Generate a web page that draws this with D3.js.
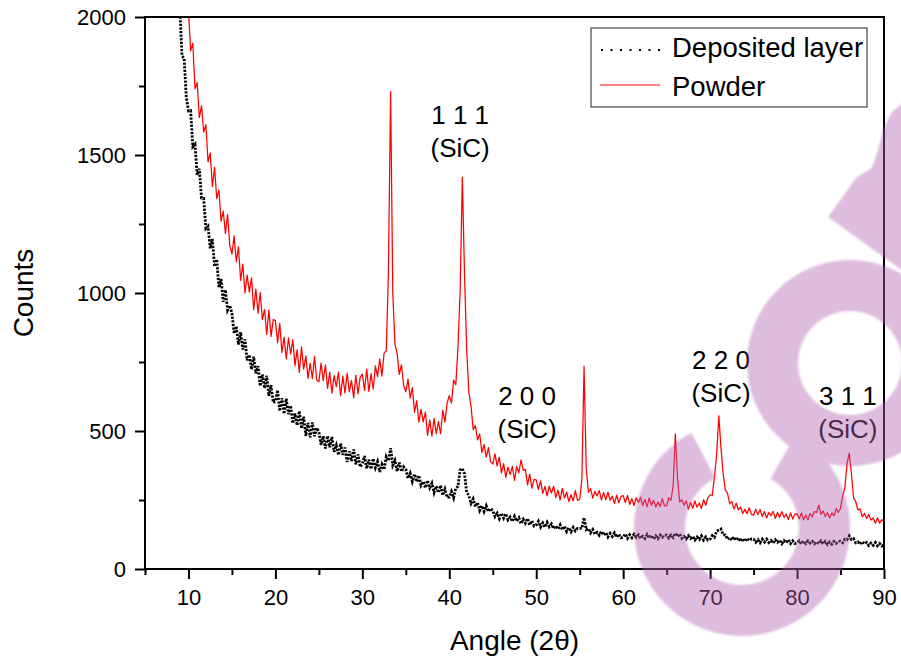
<!DOCTYPE html>
<html>
<head>
<meta charset="utf-8">
<script src="https://cdn.jsdelivr.net/npm/d3@7"></script>
<style>
  html, body { margin: 0; padding: 0; background: #fff; }
  svg { display: block; font-family: "Liberation Sans", Arial, sans-serif; }
</style>
</head>
<body>
<svg id="chart" width="901" height="661"></svg>
<script>
// XRD patterns, counts sampled every 0.25 degrees (2θ) from 8.5 to 90
const angleStart = 8.5;
const angleStep = 0.25;

const powderCounts = [
  2740, 2510, 2450, 2220, 2180, 2030,
  2024, 1877, 1905, 1740, 1762, 1635, 1679, 1583, 1610, 1476, 1508, 1385, 1455, 1342, 1373, 1260, 1297, 1216, 1285, 1172,
  1141, 1207, 1113, 1167, 1046, 1105, 1000, 1065, 1003, 1055, 940, 1014, 927, 1001, 904, 940, 850, 938, 843, 904,
  900, 820, 890, 785, 840, 761, 837, 779, 830, 737, 795, 712, 805, 724, 772, 691, 745, 690, 770, 685,
  678, 746, 682, 740, 654, 713, 637, 701, 661, 713, 628, 699, 638, 710, 642, 683, 620, 702, 635, 695,
  706, 647, 724, 643, 708, 652, 736, 697, 761, 699, 783, 790, 1080, 1730, 1000, 815, 780, 705, 740, 665,
  642, 688, 619, 657, 568, 610, 532, 578, 533, 568, 484, 540, 481, 546, 490, 534, 490, 576, 532, 602,
  628, 601, 685, 668, 804, 1010, 1420, 1070, 795, 640, 590, 505, 520, 468, 489, 422, 451, 405, 440, 389,
  380, 417, 374, 405, 348, 382, 332, 369, 342, 372, 321, 372, 348, 395, 358, 361, 305, 344, 293, 325,
  323, 288, 319, 274, 299, 265, 300, 275, 300, 259, 286, 250, 292, 257, 279, 244, 269, 247, 284, 249,
  252, 326, 735, 363, 278, 291, 257, 281, 265, 284, 250, 277, 251, 278, 249, 264, 237, 268, 240, 263,
  266, 241, 267, 234, 255, 230, 258, 241, 260, 230, 252, 225, 258, 231, 249, 224, 243, 226, 255, 229,
  229, 259, 249, 301, 490, 330, 242, 251, 231, 247, 217, 241, 220, 247, 224, 239, 219, 251, 231, 258,
  269, 267, 334, 412, 555, 438, 345, 286, 275, 237, 245, 217, 239, 214, 225, 201, 216, 200, 222, 198,
  195, 217, 197, 216, 190, 208, 185, 205, 193, 209, 183, 205, 187, 208, 187, 199, 179, 203, 181, 199,
  200, 182, 203, 178, 196, 178, 201, 189, 208, 205, 232, 198, 210, 190, 204, 185, 203, 193, 219, 205,
  220, 266, 295, 382, 420, 347, 258, 244, 214, 218, 189, 202, 183, 198, 177, 185, 166, 186, 166, 179,
  170
];

const depositedCounts = [
  2340, 2110, 2040, 1860, 1850, 1710,
  1660, 1661, 1530, 1539, 1428, 1450, 1344, 1343, 1234, 1242, 1162, 1195, 1096, 1122, 1020, 1050, 968, 1011, 938, 955,
  926, 853, 880, 813, 858, 795, 832, 756, 776, 723, 769, 709, 735, 663, 705, 655, 700, 627, 666, 603,
  607, 648, 572, 619, 562, 617, 561, 592, 528, 563, 520, 572, 509, 552, 482, 529, 477, 531, 481, 511,
  497, 450, 481, 437, 482, 441, 478, 425, 448, 413, 455, 414, 440, 388, 426, 391, 433, 379, 415, 370,
  381, 409, 364, 396, 362, 400, 367, 389, 352, 379, 360, 407, 392, 438, 376, 393, 354, 386, 353, 370,
  361, 329, 347, 317, 344, 316, 339, 303, 317, 294, 321, 294, 311, 277, 300, 277, 303, 267, 289, 259,
  261, 281, 258, 293, 299, 359, 364, 345, 277, 266, 238, 254, 226, 241, 212, 229, 208, 229, 208, 219,
  212, 190, 202, 182, 202, 184, 200, 178, 188, 172, 191, 173, 185, 164, 180, 166, 183, 160, 175, 156,
  160, 173, 152, 167, 152, 169, 153, 163, 146, 156, 145, 160, 142, 155, 136, 150, 135, 151, 138, 147,
  147, 147, 186, 143, 147, 131, 143, 126, 133, 122, 136, 123, 132, 116, 129, 118, 131, 115, 126, 113,
  116, 127, 111, 124, 113, 126, 115, 124, 111, 119, 111, 125, 112, 122, 108, 120, 110, 123, 115, 123,
  123, 112, 123, 114, 130, 118, 127, 111, 118, 109, 121, 111, 118, 105, 116, 107, 120, 105, 116, 105,
  108, 121, 115, 137, 141, 145, 124, 124, 108, 114, 105, 116, 104, 113, 100, 110, 100, 111, 103, 109,
  108, 97, 106, 95, 108, 98, 108, 96, 103, 94, 106, 97, 105, 92, 103, 95, 106, 92, 102, 92,
  95, 102, 91, 101, 92, 102, 94, 100, 91, 98, 92, 102, 91, 100, 89, 98, 90, 100, 93, 100,
  101, 95, 108, 106, 120, 107, 110, 95, 98, 90, 99, 91, 96, 85, 94, 86, 96, 84, 92, 83,
  87
];

// Axis ticks
const xMajorTicks = [10, 20, 30, 40, 50, 60, 70, 80, 90];
const xMinorTicks = [5, 15, 25, 35, 45, 55, 65, 75, 85];
const yMajorTicks = [0, 500, 1000, 1500, 2000];
const yMinorTicks = [250, 750, 1250, 1750];

// Reflection labels (Miller indices) and where they sit (angle, counts of first line)
const peakIndices = ["1 1 1", "2 0 0", "2 2 0", "3 1 1"];
const peakPhase = ["(SiC)", "(SiC)", "(SiC)", "(SiC)"];
const peakLabelAngles = [41.25, 48.95, 71.25, 85.85];
const peakLabelCounts = [1612, 594, 725, 594];

const seriesNames = ["Deposited layer", "Powder"];

// ---------------------------------------------------------------
(function draw() {
  const svg = d3.select("#chart");
  const pL = 145, pR = 884, pT = 17, pB = 569;

  const x = d3.scaleLinear().domain([5, 90]).range([pL, pR]);
  const y = d3.scaleLinear().domain([0, 2000]).range([pB, pT]);

  svg.append("rect").attr("width", 901).attr("height", 661).attr("fill", "#fff");

  const defs = svg.append("defs");
  defs.append("clipPath").attr("id", "plotClip")
    .append("rect").attr("x", pL).attr("y", pT)
    .attr("width", pR - pL).attr("height", pB - pT);

  const toPoints = arr => arr.map((c, i) => [angleStart + i * angleStep, c]);
  const line = d3.line().x(d => x(d[0])).y(d => y(d[1]));

  const plot = svg.append("g").attr("clip-path", "url(#plotClip)");

  // deposited layer: dotted trace
  plot.append("path")
    .datum(toPoints(depositedCounts))
    .attr("d", line)
    .attr("fill", "none")
    .attr("stroke", "#000")
    .attr("stroke-width", 2.8)
    .attr("stroke-dasharray", "2.2 1.4");

  // powder: thin red trace
  plot.append("path")
    .datum(toPoints(powderCounts))
    .attr("d", line)
    .attr("fill", "none")
    .attr("stroke", "#ff0000")
    .attr("stroke-width", 1.25)
    .attr("stroke-linejoin", "round");

  // axes
  function styleAxis(g) {
    g.select(".domain").remove();
    g.selectAll(".tick line").attr("stroke", "#000").attr("stroke-width", 2);
    g.selectAll(".tick text").attr("fill", "#000")
      .style("font-family", "'Liberation Sans', Arial, sans-serif")
      .style("font-size", "22px");
  }

  svg.append("g").attr("transform", `translate(0,${pB})`)
    .call(d3.axisBottom(x).tickValues(xMinorTicks).tickSize(6).tickFormat(""))
    .call(styleAxis);
  svg.append("g").attr("transform", `translate(0,${pB})`)
    .call(d3.axisBottom(x).tickValues(xMajorTicks).tickSize(10).tickPadding(10).tickFormat(d3.format("d")))
    .call(styleAxis);

  svg.append("g").attr("transform", `translate(${pL},0)`)
    .call(d3.axisLeft(y).tickValues(yMinorTicks).tickSize(6).tickFormat(""))
    .call(styleAxis);
  svg.append("g").attr("transform", `translate(${pL},0)`)
    .call(d3.axisLeft(y).tickValues(yMajorTicks).tickSize(10).tickPadding(9).tickFormat(d3.format("d")))
    .call(styleAxis);

  // frame
  svg.append("rect")
    .attr("x", pL).attr("y", pT)
    .attr("width", pR - pL).attr("height", pB - pT)
    .attr("fill", "none").attr("stroke", "#000").attr("stroke-width", 2);

  // axis titles
  svg.append("text")
    .attr("transform", `translate(33,${(pT + pB) / 2}) rotate(-90)`)
    .attr("text-anchor", "middle")
    .style("font-size", "28px")
    .text("Counts");

  svg.append("text")
    .attr("x", (pL + pR) / 2).attr("y", 650)
    .attr("text-anchor", "middle")
    .style("font-size", "28px")
    .text("Angle (2θ)");

  // peak annotations
  const ann = svg.append("g").style("font-size", "26px").attr("text-anchor", "middle");
  peakIndices.forEach((lab, i) => {
    const t = ann.append("text")
      .attr("x", x(peakLabelAngles[i]))
      .attr("y", y(peakLabelCounts[i]));
    t.append("tspan").attr("x", x(peakLabelAngles[i])).text(lab);
    t.append("tspan").attr("x", x(peakLabelAngles[i])).attr("dy", 33).text(peakPhase[i]);
  });

  // legend
  const lg = svg.append("g");
  lg.append("rect").attr("x", 591).attr("y", 28).attr("width", 276).attr("height", 79)
    .attr("fill", "#fff").attr("stroke", "#444").attr("stroke-width", 1.2);
  lg.append("line").attr("x1", 601).attr("x2", 660).attr("y1", 50).attr("y2", 50)
    .attr("stroke", "#000").attr("stroke-width", 2).attr("stroke-dasharray", "2 7.5");
  lg.append("line").attr("x1", 600).attr("x2", 660).attr("y1", 85).attr("y2", 85)
    .attr("stroke", "#ff0000").attr("stroke-width", 1);
  lg.append("text").attr("x", 672).attr("y", 57).style("font-size", "27.5px").text(seriesNames[0]);
  lg.append("text").attr("x", 672).attr("y", 96).style("font-size", "27.5px").text(seriesNames[1]);

  // translucent logo mark laid over the figure
  defs.append("filter").attr("id", "soft")
    .append("feGaussianBlur").attr("stdDeviation", 0.9);

  const mark = svg.append("g")
    .attr("opacity", 0.42)
    .attr("fill", "#b060b0")
    .attr("filter", "url(#soft)");

  const deg = Math.PI / 180;
  mark.append("path")
    .attr("transform", "translate(850,363)")
    .attr("d", d3.arc()({ innerRadius: 52, outerRadius: 103, startAngle: 0, endAngle: 2 * Math.PI }));
  mark.append("path")
    .attr("transform", "translate(742,528)")
    .attr("d", d3.arc()({ innerRadius: 57, outerRadius: 108, startAngle: 30 * deg, endAngle: 332 * deg }));
  mark.append("path")
    .attr("d", d3.line()([
      [828, 217], [857, 177], [872, 168], [878, 150], [884, 127], [892, 112], [903, 103], [903, 271]
    ]) + "Z");
})();
</script>
</body>
</html>
